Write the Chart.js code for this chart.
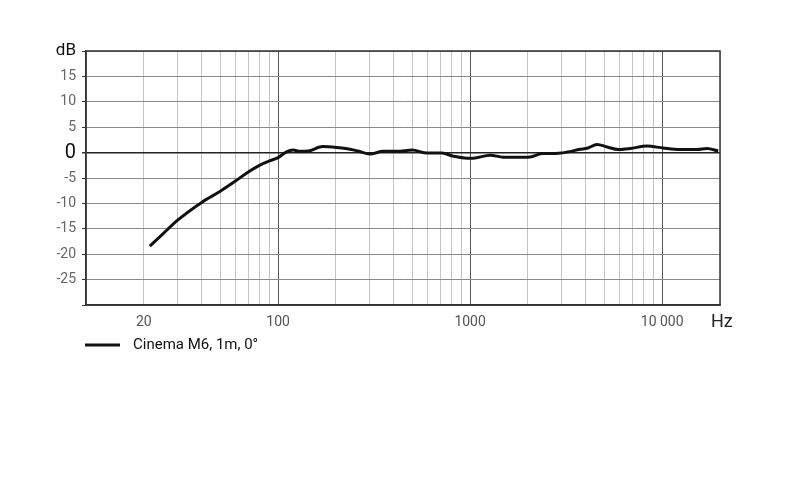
<!DOCTYPE html>
<html lang="en">
<head>
  <meta charset="UTF-8">
  <title>Cinema M6 frequency response</title>
  <style>
    body { margin: 0; padding: 0; background: #ffffff; }
    #freqChart { display: block; }
  </style>
</head>
<body>
  <canvas id="freqChart" width="800" height="500"></canvas>

  <script src="https://cdn.jsdelivr.net/npm/chart.js"></script>
  <script>
    // data
    const seriesLabel = 'Cinema M6, 1m, 0°';
    const freqs = [21.5, 25.3, 30, 40, 50, 60, 70, 80, 90, 100, 110, 120, 130, 143, 171, 203, 237, 261, 301, 352, 417, 499, 598, 714, 815, 964, 1037, 1271, 1486, 1888, 2053, 2371, 2704, 3199, 3740, 4066, 4583, 5174, 5902, 6813, 8350, 10110, 12400, 15200, 17130, 19570];
    const dbs = [-18.4, -15.9, -13.3, -9.8, -7.6, -5.6, -3.8, -2.5, -1.65, -1.0, 0.1, 0.5, 0.25, 0.3, 1.2, 1.0, 0.65, 0.3, -0.3, 0.25, 0.25, 0.5, -0.1, -0.1, -0.7, -1.1, -1.1, -0.5, -0.9, -0.9, -0.85, -0.2, -0.2, 0.1, 0.65, 0.85, 1.6, 1.1, 0.6, 0.8, 1.3, 0.9, 0.6, 0.6, 0.8, 0.3];

    const xTicks = [20, 30, 40, 50, 60, 70, 80, 90, 100, 200, 300, 400, 500, 600, 700, 800, 900, 1000, 2000, 3000, 4000, 5000, 6000, 7000, 8000, 9000, 10000, 20000];
    const xLabels = { 20: '20', 100: '100', 1000: '1000', 10000: '10 000' };
    const decades = [100, 1000, 10000];
    const yTicks = [-30, -25, -20, -15, -10, -5, 0, 5, 10, 15, 20];

    const FONT = 'Roboto, "Noto Sans", sans-serif';
    const tv = c => (c && c.tick ? c.tick.value : null);

    // cadre + legende + "Hz"
    const extras = {
      id: 'extras',
      afterDraw(chart) {
        const { ctx, chartArea: a } = chart;
        ctx.save();
        ctx.strokeStyle = '#333';
        ctx.lineWidth = 1.5;
        ctx.strokeRect(a.left, a.top, a.right - a.left, a.bottom - a.top);

        ctx.fillStyle = '#222';
        ctx.font = '18px ' + FONT;
        ctx.textBaseline = 'middle';
        ctx.textAlign = 'left';
        ctx.fillText('Hz', 711, 322);

        ctx.strokeStyle = '#111';
        ctx.lineWidth = 3;
        ctx.beginPath();
        ctx.moveTo(85, 345);
        ctx.lineTo(120, 345);
        ctx.stroke();
        ctx.font = '15px ' + FONT;
        ctx.fillStyle = '#111';
        ctx.fillText(seriesLabel, 133, 345);
        ctx.restore();
      }
    };

    new Chart(document.getElementById('freqChart'), {
      type: 'line',
      data: {
        datasets: [{
          label: seriesLabel,
          data: freqs.map((f, i) => ({ x: f, y: dbs[i] })),
          borderColor: '#111',
          borderWidth: 3,
          pointRadius: 0,
          cubicInterpolationMode: 'monotone',
          fill: false
        }]
      },
      options: {
        responsive: false,
        animation: false,
        layout: { padding: { top: 51, right: 80, left: 0, bottom: 165 } },
        plugins: { legend: { display: false }, tooltip: { enabled: false } },
        scales: {
          x: {
            type: 'logarithmic',
            min: 10,
            max: 20000,
            afterBuildTicks(scale) { scale.ticks = xTicks.map(v => ({ value: v })); },
            afterFit(scale) { scale.height = 30; },
            grid: {
              drawTicks: false,
              color: c => decades.includes(tv(c)) ? '#555' : '#c4c4c4',
              lineWidth: 1
            },
            border: { color: '#333', width: 1.5 },
            ticks: {
              autoSkip: false,
              maxRotation: 0,
              padding: 9,
              color: '#555',
              font: { family: FONT, size: 14 },
              callback: v => xLabels[v] || ''
            }
          },
          y: {
            min: -30,
            max: 20,
            afterBuildTicks(scale) { scale.ticks = yTicks.map(v => ({ value: v })); },
            afterFit(scale) { scale.width = 86; },
            grid: {
              color: c => tv(c) === 0 ? '#222' : '#8a8a8a',
              lineWidth: c => tv(c) === 0 ? 1.5 : 1,
              tickLength: 4,
              tickColor: '#333'
            },
            border: { color: '#333', width: 1.5 },
            ticks: {
              autoSkip: false,
              padding: 6,
              color: c => (tv(c) === 0 || tv(c) === 20) ? '#111' : '#666',
              font: c => ({ family: FONT, size: tv(c) === 0 ? 20 : (tv(c) === 20 ? 17 : 14) }),
              callback: v => v === 20 ? 'dB' : (v === -30 ? '' : String(v))
            }
          }
        }
      },
      plugins: [extras]
    });
  </script>
</body>
</html>
